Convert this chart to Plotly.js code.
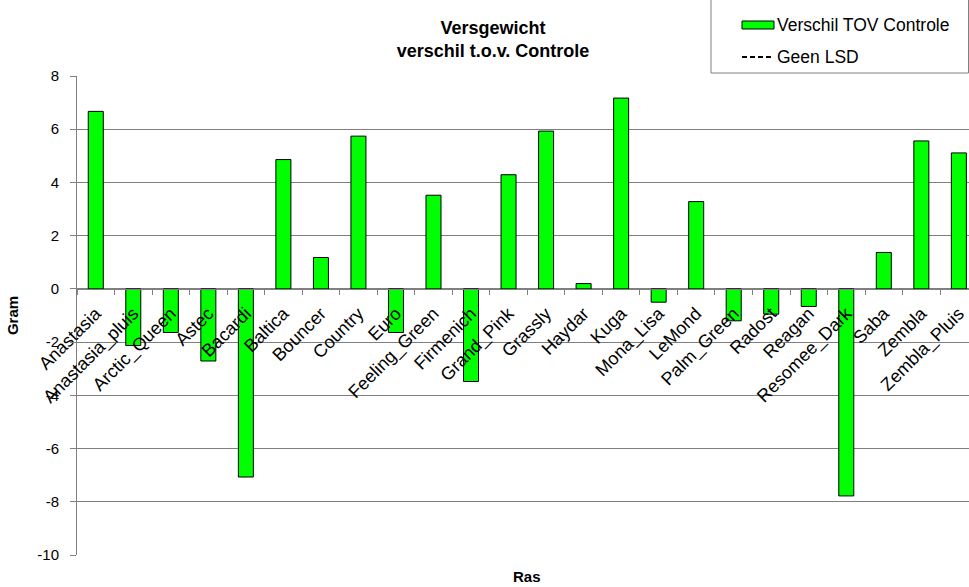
<!DOCTYPE html>
<html>
<head>
<meta charset="utf-8">
<script src="https://cdn.plot.ly/plotly-3.0.1.min.js"></script>
<style>html,body{margin:0;padding:0;background:#fff;}#chart{width:969px;height:587px;}</style>
</head>
<body>
<div id="chart"></div>
<script>
const categories = ["Anastasia","Anastasia_pluis","Arctic_Queen","Astec","Bacardi","Baltica","Bouncer","Country","Euro","Feeling_Green","Firmenich","Grand_Pink","Grassly","Haydar","Kuga","Mona_Lisa","LeMond","Palm_Green","Radost","Reagan","Resomee_Dark","Saba","Zembla","Zembla_Pluis"];
const verschil = [6.67,-2.13,-1.64,-2.71,-7.07,4.86,1.18,5.74,-1.64,3.52,-3.48,4.29,5.93,0.2,7.17,-0.5,3.28,-1.2,-0.95,-0.66,-7.78,1.37,5.56,5.11];
const yTicks = [8,6,4,2,0,-2,-4,-6,-8,-10];
const legendNames = ["Verschil TOV Controle", "Geen LSD"];

const font = "Liberation Sans, Arial, sans-serif";

// plot area in pixels (for converting legend placement to paper units)
const PL = 77, PR = 969, PT = 76, PB = 555;
const px = v => (v - PL) / (PR - PL);
const py = v => (PB - v) / (PB - PT);

const traces = [
  {
    type: "bar",
    name: legendNames[0],
    x: categories,
    y: verschil,
    width: 0.40,
    marker: {color: "#00ff00", line: {color: "#000000", width: 1}},
    hoverinfo: "x+y",
    showlegend: false
  }
];

const layout = {
  width: 969,
  height: 587,
  margin: {l: PL, r: 969 - PR, t: PT, b: 587 - PB},
  paper_bgcolor: "#ffffff",
  plot_bgcolor: "#ffffff",
  font: {family: font, size: 14, color: "#000000"},
  showlegend: false,
  title: {
    text: "<b>Versgewicht<br>verschil t.o.v. Controle</b>",
    font: {family: font, size: 18, color: "#000000"},
    x: 493 / 969, xref: "container", xanchor: "center",
    y: 0.942, yref: "container", yanchor: "top"
  },
  xaxis: {
    type: "category",
    range: [-0.5, 23.27],
    anchor: "free",
    position: py(289),
    tickangle: -45,
    ticks: "outside",
    tickson: "boundaries",
    ticklen: 5,
    tickcolor: "#808080",
    showline: true,
    linecolor: "#808080",
    linewidth: 1,
    showgrid: false,
    ticklabelstandoff: 6,
    tickfont: {family: font, size: 18, color: "#000000"},
    automargin: false
  },
  yaxis: {
    range: [-10, 8],
    tickvals: yTicks,
    ticktext: yTicks.map(String),
    ticks: "outside",
    ticklen: 6,
    tickcolor: "#808080",
    showline: true,
    linecolor: "#808080",
    showgrid: true,
    gridcolor: "#7f7f7f",
    gridwidth: 1,
    zeroline: false,
    ticklabelstandoff: 8,
    tickfont: {family: font, size: 15, color: "#000000"},
    title: {text: "<b>Gram</b>", font: {family: font, size: 15, color: "#000000"}, standoff: 15},
    automargin: false
  },
  shapes: [
    {
      type: "rect", xref: "paper", yref: "paper",
      x0: px(711), x1: px(968.5), y0: py(73), y1: py(-2),
      line: {color: "#808080", width: 1},
      fillcolor: "#ffffff", layer: "above"
    },
    {
      type: "rect", xref: "paper", yref: "paper",
      x0: px(742), x1: px(774), y0: py(29), y1: py(21),
      line: {color: "#000000", width: 1},
      fillcolor: "#00ff00", layer: "above"
    },
    {
      type: "line", xref: "paper", yref: "paper",
      x0: px(742), x1: px(774), y0: py(57), y1: py(57),
      line: {color: "#000000", width: 2, dash: "5px,3px"},
      layer: "above"
    }
  ],
  annotations: [
    {
      text: "<b>Ras</b>", xref: "paper", yref: "paper",
      x: px(527), y: -0.066, xanchor: "center", yanchor: "bottom",
      showarrow: false, font: {family: font, size: 15, color: "#000000"}
    },
    {
      text: legendNames[0], xref: "paper", yref: "paper",
      x: px(775), y: py(25), xanchor: "left", yanchor: "middle",
      showarrow: false, font: {family: font, size: 17.5, color: "#000000"}
    },
    {
      text: legendNames[1], xref: "paper", yref: "paper",
      x: px(775), y: py(57), xanchor: "left", yanchor: "middle",
      showarrow: false, font: {family: font, size: 17.5, color: "#000000"}
    }
  ]
};

Plotly.newPlot("chart", traces, layout, {displayModeBar: false, responsive: false});
</script>
</body>
</html>
